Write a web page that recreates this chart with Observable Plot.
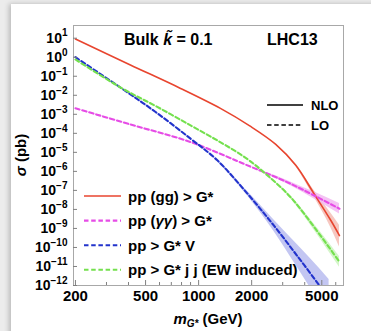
<!DOCTYPE html>
<html>
<head>
<meta charset="utf-8">
<script src="https://cdn.jsdelivr.net/npm/d3@7"></script>
<script src="https://cdn.jsdelivr.net/npm/@observablehq/plot@0.6"></script>
<style>
  html, body { margin: 0; padding: 0; width: 371px; height: 331px; overflow: hidden; background: #ececec; }
  #card { position: absolute; left: 11px; top: 4px; width: 380px; height: 340px; background: #fff;
          box-shadow: -2px 0 5px rgba(0,0,0,0.22); }
  #chart { position: absolute; left: 0; top: 0; }
</style>
</head>
<body>
<div id="card"></div>
<div id="chart"></div>
<script>
// Bulk graviton production cross sections at 13 TeV, k~ = 0.1

// pp (gg) > G*  (NLO)
const massGG  = [200, 410, 790, 1330, 1950, 2740, 3560, 4500, 5620, 6300];
const sigmaGG = [9.0, 0.392, 0.0229, 2.04e-3, 2.46e-4, 2.63e-5, 2.07e-6, 7.05e-8, 2.69e-9, 4.19e-10];
const bandMassGG = [2740, 3560, 4500, 5620, 6300];
const bandLoGG   = [2.54e-5, 1.81e-6, 4.76e-8, 1.12e-9, 1.05e-10];
const bandHiGG   = [2.72e-5, 2.38e-6, 1.04e-7, 6.46e-9, 1.49e-9];

// pp (γγ) > G*  (LO)
const massAA  = [200, 410, 900, 1950, 2400, 3330, 4500, 6300];
const sigmaAA = [2.07e-3, 2.92e-4, 3.48e-5, 1.84e-6, 8.39e-7, 2.22e-7, 5.53e-8, 1.08e-8];
const bandMassAA = [2400, 3330, 4500, 6300];
const bandLoAA   = [7.66e-7, 1.76e-7, 3.66e-8, 5.68e-9];
const bandHiAA   = [9.20e-7, 2.79e-7, 8.38e-8, 2.06e-8];

// pp > G* V  (LO)
const massV  = [200, 368, 570, 900, 1277, 1892, 2677, 3638, 4825, 5500];
const sigmaV = [1.0, 0.0221, 1.32e-3, 5.24e-5, 3.80e-6, 6.79e-8, 1.39e-9, 3.47e-11, 1.05e-12, 1.85e-13];
const bandMassV = [1277, 1892, 2677, 3638, 4825, 5500];
const bandLoV   = [3.55e-6, 5.15e-8, 6.95e-10, 8.71e-12, 1.32e-13, 1.66e-14];
const bandHiV   = [4.07e-6, 8.95e-8, 2.77e-9, 1.38e-10, 8.32e-12, 2.09e-12];

// pp > G* j j, EW induced  (LO)
const massJJ  = [200, 368, 570, 900, 1333, 1849, 2400, 3330, 4620, 6300];
const sigmaJJ = [0.76, 0.023, 2.73e-3, 2.61e-4, 3.35e-5, 5.14e-6, 7.43e-7, 4.35e-8, 9.08e-10, 1.74e-11];
const bandMassJJ = [2400, 3330, 4620, 6300];
const bandLoJJ   = [7.10e-7, 3.61e-8, 6.14e-10, 9.12e-12];
const bandHiJJ   = [7.78e-7, 5.22e-8, 1.34e-9, 3.31e-11];

// axis ticks
const xMajor = [200, 500, 1000, 2000, 5000];
const xMinor = [300, 400, 600, 700, 800, 900, 3000, 4000, 6000];
const yMajor = [1e-12, 1e-11, 1e-10, 1e-9, 1e-8, 1e-7, 1e-6, 1e-5, 1e-4, 1e-3, 1e-2, 1e-1, 1, 10];

const toRows = (ms, ss) => ms.map((m, i) => ({m, s: ss[i]}));
const toBand = (ms, lo, hi) => ms.map((m, i) => ({m, lo: lo[i], hi: hi[i]}));

const series = [
  {label: ["pp (gg) > G*"], color: "#e8452f", band: "#f5bdb5", dash: null, width: 1.6,
   rows: toRows(massGG, sigmaGG), bandRows: toBand(bandMassGG, bandLoGG, bandHiGG)},
  {label: ["pp (", "γγ", ") > G*"], color: "#e64ce6", band: "#f2b8f2", dash: "4.5,2.7", width: 2.1,
   rows: toRows(massAA, sigmaAA), bandRows: toBand(bandMassAA, bandLoAA, bandHiAA)},
  {label: ["pp > G* V"], color: "#2233cc", band: "#b9bcf0", dash: "4.5,2.7", width: 2.1,
   rows: toRows(massV, sigmaV), bandRows: toBand(bandMassV, bandLoV, bandHiV)},
  {label: ["pp > G* j j (EW induced)"], color: "#74e04e", band: "#cdf3bf", dash: "4.5,2.7", width: 2.1,
   rows: toRows(massJJ, sigmaJJ), bandRows: toBand(bandMassJJ, bandLoJJ, bandHiJJ)}
];

const font = "'Liberation Sans', Arial, Helvetica, sans-serif";

const chart = Plot.plot({
  width: 371,
  height: 331,
  marginLeft: 73,
  marginRight: 28,
  marginTop: 25,
  marginBottom: 46,
  x: {type: "log", domain: [195, 6640]},
  y: {type: "log", domain: [1e-12, 46.5]},
  style: {fontFamily: font, fontWeight: "bold", fontSize: "14px", color: "#000", background: "transparent", overflow: "visible"},
  marks: [
    ...series.map(s => Plot.areaY(s.bandRows, {x: "m", y1: "lo", y2: "hi", fill: s.band, fillOpacity: 0.85, curve: "monotone-x", clip: true})),
    ...series.map(s => Plot.line(s.rows, {x: "m", y: "s", stroke: s.color, strokeWidth: s.width,
      strokeDasharray: s.dash, curve: "catmull-rom", clip: true})),
    Plot.frame({stroke: "#a8a8a8"}),
    Plot.axisX({ticks: xMajor, tickSize: 0, tickPadding: 5, tickFormat: d => `${d}`, fontSize: 15, label: null}),
    Plot.axisX({ticks: xMajor, tickSize: -5, stroke: "#808080", fill: "none", label: null}),
    Plot.axisX({ticks: xMinor, tickSize: -3, stroke: "#808080", fill: "none", label: null}),
    Plot.axisY({ticks: yMajor, tickSize: 0, tickPadding: 6, fontSize: 14, label: null,
      tickFormat: d => "10^" + Math.round(Math.log10(d))}),
    Plot.axisY({ticks: yMajor, tickSize: -4, stroke: "#808080", fill: "none", label: null})
  ]
});

const svg = d3.select(chart);

// superscript exponents on the y tick labels
svg.selectAll('g[aria-label="y-axis tick label"] text').each(function () {
  const [base, exp] = this.textContent.split("^");
  const t = d3.select(this);
  t.text(null);
  t.append("tspan").text(base);
  t.append("tspan").attr("dy", "-0.62em").attr("font-size", "10px").text(exp.replace("-", "\u2212"));
});

const g = svg.append("g").attr("font-family", font).attr("font-weight", "bold")
  .attr("fill", "#000").attr("text-anchor", "start");

// title line
const title = g.append("text").attr("x", 124).attr("y", 45).attr("font-size", 16);
title.append("tspan").text("Bulk ");
title.append("tspan").attr("font-style", "italic").text("k\u0303");
title.append("tspan").text(" = 0.1");
g.append("text").attr("x", 267).attr("y", 45).attr("font-size", 16).text("LHC13");

// order legend
[["NLO", null, 105], ["LO", "4.5,2.7", 125]].forEach(([name, dash, y]) => {
  g.append("line").attr("x1", 267).attr("x2", 303).attr("y1", y).attr("y2", y)
    .attr("stroke", "#000").attr("stroke-width", 1.5).attr("stroke-dasharray", dash);
  g.append("text").attr("x", 311).attr("y", y + 4.5).attr("font-size", 13).text(name);
});

// process legend
series.forEach((s, i) => {
  const y = 196 + i * 24.6;
  g.append("line").attr("x1", 84).attr("x2", 121).attr("y1", y).attr("y2", y)
    .attr("stroke", s.color).attr("stroke-width", s.width).attr("stroke-dasharray", s.dash);
  const t = g.append("text").attr("x", 128).attr("y", y + 5.5).attr("font-size", 15);
  s.label.forEach((part, j) => {
    const sp = t.append("tspan").text(part);
    if (j === 1) sp.attr("font-style", "italic");
  });
});

// axis titles
const yl = g.append("text").attr("transform", "translate(26,155) rotate(-90)")
  .attr("text-anchor", "middle").attr("font-size", 15);
yl.append("tspan").attr("font-style", "italic").text("σ");
yl.append("tspan").text(" (pb)");

const xl = g.append("text").attr("x", 208).attr("y", 324).attr("text-anchor", "middle").attr("font-size", 15);
xl.append("tspan").attr("font-style", "italic").text("m");
xl.append("tspan").attr("font-style", "italic").attr("font-size", 10).attr("dy", 3).text("G*");
xl.append("tspan").attr("dy", -3).text(" (GeV)");

document.getElementById("chart").appendChild(chart);
</script>
</body>
</html>
